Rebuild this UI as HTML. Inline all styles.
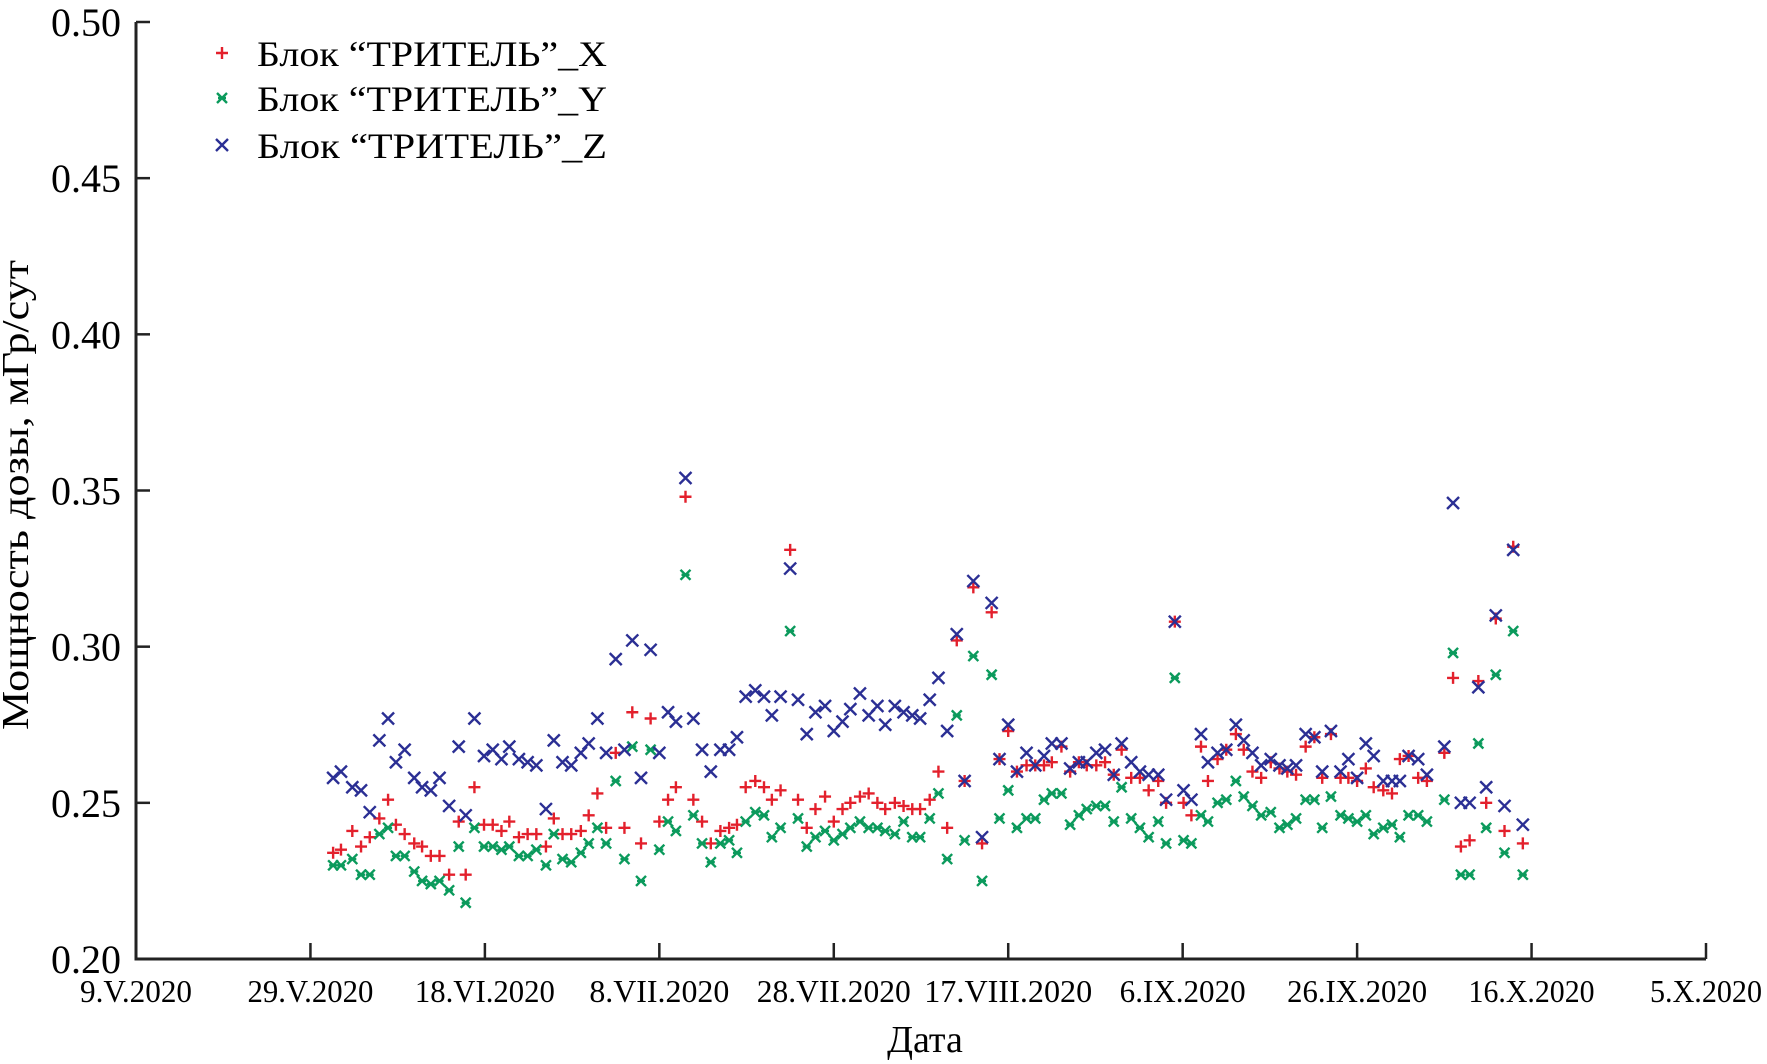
<!DOCTYPE html>
<html><head><meta charset="utf-8"><style>
html,body{margin:0;padding:0;background:#fff;}
svg{display:block;font-family:"Liberation Serif",serif;}
</style></head><body>
<svg id="chart" width="1767" height="1064" viewBox="0 0 1767 1064">
<g id="axes"></g>
<g id="marks"></g>
<g id="legend"></g>
<text x="28" y="495" font-size="38" text-anchor="middle" transform="rotate(-90 28 495)" textLength="470" lengthAdjust="spacingAndGlyphs">Мощность дозы, мГр/сут</text>
<text x="925" y="1052" font-size="38" text-anchor="middle">Дата</text>
</svg>
<script>
const xTickLabels=["9.V.2020","29.V.2020","18.VI.2020","8.VII.2020","28.VII.2020","17.VIII.2020","6.IX.2020","26.IX.2020","16.X.2020","5.X.2020"];
const yTicks=[0.20,0.25,0.30,0.35,0.40,0.45,0.50];
const seriesNames=["Блок “ТРИТЕЛЬ”_X","Блок “ТРИТЕЛЬ”_Y","Блок “ТРИТЕЛЬ”_Z"];
const days=[22.6,23.5,24.8,25.8,26.8,27.9,28.9,29.8,30.8,31.9,32.8,33.8,34.8,35.9,37.0,37.8,38.8,39.9,40.9,41.9,42.8,43.9,44.9,45.9,47.0,47.9,48.9,49.9,51.0,51.9,52.9,53.9,55.0,56.0,56.9,57.9,59.0,60.0,61.0,61.9,63.0,63.9,64.9,65.9,67.0,68.0,68.9,69.9,71.0,72.0,72.9,73.9,75.0,75.9,76.9,77.9,79.0,80.0,81.0,81.9,83.0,84.0,85.0,85.9,87.0,88.0,89.0,89.9,91.0,92.0,93.0,94.1,95.0,96.0,97.0,98.1,99.0,100.0,101.0,102.1,103.1,104.1,105.0,106.1,107.1,108.1,109.0,110.1,111.1,112.1,113.0,114.1,115.1,116.1,117.2,118.1,119.1,120.1,121.0,122.1,122.9,124.0,125.0,126.1,127.0,128.0,129.0,130.1,131.1,132.0,133.0,134.1,135.1,136.0,137.0,138.1,139.0,140.0,141.0,141.9,143.0,144.0,144.9,145.9,147.0,148.0,150.0,151.0,151.9,152.9,153.9,154.8,155.9,156.9,157.9,159.0];
const seriesX=[0.234,0.235,0.241,0.236,0.239,0.245,0.251,0.243,0.240,0.237,0.236,0.233,0.233,0.227,0.244,0.227,0.255,0.243,0.243,0.241,0.244,0.239,0.240,0.240,0.236,0.245,0.240,0.240,0.241,0.246,0.253,0.242,0.266,0.242,0.279,0.237,0.277,0.244,0.251,0.255,0.348,0.251,0.244,0.237,0.241,0.242,0.243,0.255,0.257,0.255,0.251,0.254,0.331,0.251,0.242,0.248,0.252,0.244,0.248,0.250,0.252,0.253,0.250,0.248,0.250,0.249,0.248,0.248,0.251,0.260,0.242,0.302,0.257,0.319,0.237,0.311,0.264,0.273,0.260,0.262,0.262,0.262,0.263,0.268,0.260,0.263,0.262,0.262,0.263,0.259,0.267,0.258,0.258,0.254,0.257,0.250,0.308,0.250,0.246,0.268,0.257,0.264,0.267,0.272,0.267,0.260,0.258,0.263,0.261,0.260,0.259,0.268,0.271,0.258,0.272,0.258,0.258,0.257,0.261,0.255,0.254,0.253,0.264,0.265,0.258,0.257,0.266,0.290,0.236,0.238,0.289,0.250,0.309,0.241,0.332,0.237];
const seriesY=[0.230,0.230,0.232,0.227,0.227,0.240,0.242,0.233,0.233,0.228,0.225,0.224,0.225,0.222,0.236,0.218,0.242,0.236,0.236,0.235,0.236,0.233,0.233,0.235,0.230,0.240,0.232,0.231,0.234,0.237,0.242,0.237,0.257,0.232,0.268,0.225,0.267,0.235,0.244,0.241,0.323,0.246,0.237,0.231,0.237,0.238,0.234,0.244,0.247,0.246,0.239,0.242,0.305,0.245,0.236,0.239,0.241,0.238,0.240,0.242,0.244,0.242,0.242,0.241,0.240,0.244,0.239,0.239,0.245,0.253,0.232,0.278,0.238,0.297,0.225,0.291,0.245,0.254,0.242,0.245,0.245,0.251,0.253,0.253,0.243,0.246,0.248,0.249,0.249,0.244,0.255,0.245,0.242,0.239,0.244,0.237,0.290,0.238,0.237,0.246,0.244,0.250,0.251,0.257,0.252,0.249,0.246,0.247,0.242,0.243,0.245,0.251,0.251,0.242,0.252,0.246,0.245,0.244,0.246,0.240,0.242,0.243,0.239,0.246,0.246,0.244,0.251,0.298,0.227,0.227,0.269,0.242,0.291,0.234,0.305,0.227];
const seriesZ=[0.258,0.260,0.255,0.254,0.247,0.270,0.277,0.263,0.267,0.258,0.255,0.254,0.258,0.249,0.268,0.246,0.277,0.265,0.267,0.264,0.268,0.264,0.263,0.262,0.248,0.270,0.263,0.262,0.266,0.269,0.277,0.266,0.296,0.267,0.302,0.258,0.299,0.266,0.279,0.276,0.354,0.277,0.267,0.260,0.267,0.267,0.271,0.284,0.286,0.284,0.278,0.284,0.325,0.283,0.272,0.279,0.281,0.273,0.276,0.280,0.285,0.278,0.281,0.275,0.281,0.279,0.278,0.277,0.283,0.290,0.273,0.304,0.257,0.321,0.239,0.314,0.264,0.275,0.260,0.266,0.262,0.265,0.269,0.269,0.261,0.263,0.263,0.266,0.267,0.259,0.269,0.263,0.260,0.259,0.259,0.251,0.308,0.254,0.251,0.272,0.263,0.266,0.267,0.275,0.270,0.266,0.262,0.264,0.262,0.261,0.262,0.272,0.271,0.260,0.273,0.260,0.264,0.258,0.269,0.265,0.257,0.257,0.257,0.265,0.264,0.259,0.268,0.346,0.250,0.250,0.287,0.255,0.310,0.249,0.331,0.243];

const NS="http://www.w3.org/2000/svg";
const L=136,R=1706,T=22,B=959,DAYS=180;
const xScale=d=>L+d/DAYS*(R-L);
const yScale=v=>B-(v-0.20)/0.30*(B-T);
function mk(tag,attrs,parent){const e=document.createElementNS(NS,tag);for(const k in attrs)e.setAttribute(k,attrs[k]);parent.appendChild(e);return e;}
const axes=document.getElementById('axes');
let a=mk('path',{d:`M${L},${T} L${L},${B} L${R},${B}`,fill:'none',stroke:'#222','stroke-width':3},axes);


xTickLabels.forEach((lab,i)=>{
  const x=xScale(i*20);
  if(i>0){const t=mk('line',{x1:x,y1:B,x2:x,y2:B-16,stroke:'#222','stroke-width':2.5},axes);
  
  }
  const tx=mk('text',{x:x,y:1002,'font-size':32,'text-anchor':'middle',textLength:lab.length*14,lengthAdjust:'spacingAndGlyphs'},axes);
  tx.textContent=lab;
  
  
});
yTicks.forEach(v=>{
  const y=yScale(v);
  const t=mk('line',{x1:L,y1:y,x2:L+14,y2:y,stroke:'#222','stroke-width':2.5},axes);
  
  
  const tx=mk('text',{x:121,y:y+14,'font-size':40,'text-anchor':'end'},axes);
  tx.textContent=v.toFixed(2);
  
  
});
const colors=["#e3202c","#0b9a5c","#2b2f94"];
function marker(kind,x,y,parent){
  const s=6;let d;
  if(kind===0)d=`M${x-s},${y}H${x+s}M${x},${y-s}V${y+s}`;
  else if(kind===1)d=`M${x-5},${y-5}L${x+5},${y+5}M${x+5},${y-5}L${x-5},${y+5}M${x-4},${y}H${x+4}`;
  else d=`M${x-s},${y-s}L${x+s},${y+s}M${x+s},${y-s}L${x-s},${y+s}`;
  return mk('path',{d:d,stroke:colors[kind],'stroke-width':2.4,fill:'none'},parent);
}
const marks=document.getElementById('marks');
const allSeries=[seriesX,seriesY,seriesZ];
allSeries.forEach((vals,k)=>{
  const g=mk('g',{},marks);
  
  
  const n=Math.min(days.length,vals.length);
  for(let i=0;i<n;i++){
    const p=marker(k,xScale(days[i]),yScale(vals[i]),g);
    
    
  }
});
const legend=document.getElementById('legend');
[53,98,145].forEach((y,k)=>{
  const g=mk('g',{},legend);
  
  
  marker(k,222,y,g);
  const t=mk('text',{x:257,y:y+13,'font-size':36,textLength:350,lengthAdjust:'spacingAndGlyphs'},g);
  t.textContent=seriesNames[k];
  
  
});
</script>
</body></html>
